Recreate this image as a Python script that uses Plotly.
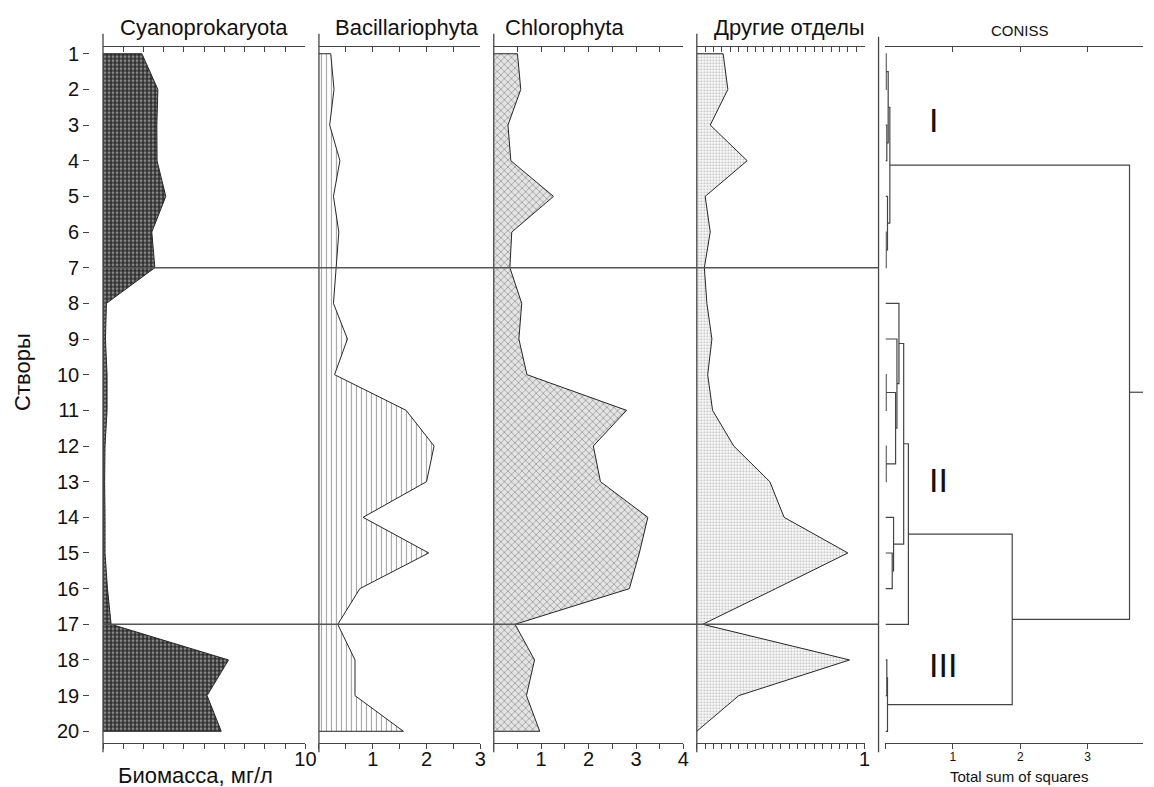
import plotly.graph_objects as go

W, H = 1154, 787

# ---------------- data ----------------
rows = list(range(1, 21))
cyano = [1.92, 2.71, 2.66, 2.67, 3.10, 2.41, 2.56, 0.17, 0.12, 0.20,
         0.20, 0.10, 0.08, 0.10, 0.10, 0.22, 0.40, 6.20, 5.14, 5.84]
bacil = [0.22, 0.28, 0.20, 0.39, 0.27, 0.37, 0.32, 0.27, 0.53, 0.29,
         1.62, 2.14, 2.00, 0.82, 2.04, 0.76, 0.35, 0.67, 0.67, 1.57]
chloro = [0.50, 0.57, 0.30, 0.36, 1.26, 0.38, 0.34, 0.59, 0.53, 0.70,
          2.80, 2.10, 2.25, 3.25, 3.07, 2.86, 0.45, 0.86, 0.69, 0.97]
other = [0.157, 0.185, 0.08, 0.30, 0.05, 0.08, 0.045, 0.06, 0.09, 0.065,
         0.094, 0.22, 0.435, 0.52, 0.90, 0.47, 0.035, 0.91, 0.25, 0.0]

panel_titles = ["Cyanoprokaryota", "Bacillariophyta", "Chlorophyta", "Другие отделы", "CONISS"]

cyano_ticks = [0, 1, 2, 3, 4, 5, 6, 7, 8, 9, 10]
cyano_labels = ["", "", "", "", "", "", "", "", "", "", "10"]
bacil_ticks = [0, 0.5, 1, 1.5, 2, 2.5, 3]
bacil_labels = ["", "", "1", "", "2", "", "3"]
chloro_ticks = [0, 0.5, 1, 1.5, 2, 2.5, 3, 3.5, 4]
chloro_labels = ["", "", "1", "", "2", "", "3", "", "4"]
other_ticks = [round(i * 0.05, 2) for i in range(21)]
other_labels = [""] * 20 + ["1"]
coniss_ticks = [0, 1, 2, 3]
coniss_labels = ["", "1", "2", "3"]

zone_boundaries = [7, 17]
zone_names = ["I", "II", "III"]
zone_label_pos = [(0.715, 2.85), (0.787, 12.94), (0.85, 18.13)]

# CONISS merges: (left, right, total sum of squares); ints are rows, "cN" = merge N
coniss_merges = [
    (1, 2, 0.01), (3, 4, 0.02), ("c0", "c1", 0.04), (6, 7, 0.01),
    (5, "c3", 0.03), ("c2", "c4", 0.065),
    (10, 11, 0.01), (12, 13, 0.01), ("c6", "c7", 0.15), (9, "c8", 0.17),
    (8, "c9", 0.20), (15, 16, 0.10), (14, "c11", 0.12), ("c10", "c12", 0.27),
    ("c13", 17, 0.34),
    (18, 19, 0.02), ("c15", 20, 0.03),
    ("c14", "c16", 1.88), ("c5", "c17", 3.62),
]
coniss_max = 3.82

# ---------------- layout geometry (screen pixels) ----------------
plot_top, plot_bot = 43, 743
row_px = (731 - 50) / 19
y_range = [20 + (plot_bot - 731) / row_px, 1 - (50 - plot_top) / row_px]
panels = [  # (left px, right px, range max)
    (104, 308.4, 10),
    (322, 485, 3),
    (498.5, 690, 4),
    (703.5, 873, 1),
    (894, 1154, coniss_max),
]
tick_sets = [(cyano_ticks, cyano_labels), (bacil_ticks, bacil_labels),
             (chloro_ticks, chloro_labels), (other_ticks, other_labels),
             (coniss_ticks, coniss_labels)]

FONT = "Liberation Sans, Arial, sans-serif"
AX = "#454545"

def px(x):
    return x / W

def py(y):
    return 1 - y / H

fig = go.Figure()

patterns = [
    dict(shape=".", fgcolor="#e0e0e0", bgcolor="#2e2e2e", size=4, solidity=0.4),
    dict(shape="|", fgcolor="#4a4a4a", bgcolor="#ffffff", size=5, solidity=0.22),
    dict(shape="x", fgcolor="#555555", bgcolor="#e4e4e4", size=5, solidity=0.3),
    dict(shape=".", fgcolor="#7a7a7a", bgcolor="#ffffff", size=3, solidity=0.4),
]
series = [cyano, bacil, chloro, other]
for i, vals in enumerate(series):
    xa = "x" if i == 0 else f"x{i+1}"
    fig.add_trace(go.Scatter(
        x=[0] + vals + [0], y=[rows[0]] + rows + [rows[-1]],
        xaxis=xa, yaxis="y", mode="lines", fill="toself",
        fillpattern=patterns[i], fillcolor=patterns[i]["bgcolor"],
        line=dict(color="#262626", width=1), hoverinfo="skip", showlegend=False))

# dendrogram
pos, hgt = {}, {}
for r in rows:
    pos[r], hgt[r] = r, 0.0
dx, dy = [], []
for k, (a, b, h) in enumerate(coniss_merges):
    ya, yb = pos[a], pos[b]
    dx += [hgt[a], h, h, hgt[b], None]
    dy += [ya, ya, yb, yb, None]
    pos[f"c{k}"] = (ya + yb) / 2
    hgt[f"c{k}"] = h
root = f"c{len(coniss_merges)-1}"
dx += [hgt[root], coniss_max, None]
dy += [pos[root], pos[root], None]
fig.add_trace(go.Scatter(x=dx, y=dy, xaxis="x5", yaxis="y", mode="lines",
                         line=dict(color="#444444", width=1.2),
                         hoverinfo="skip", showlegend=False))

# invisible traces to realise the top axes
for i in range(5):
    fig.add_trace(go.Scatter(x=[0], y=[1], xaxis=f"x{i+6}", yaxis="y", mode="markers",
                             marker=dict(opacity=0), hoverinfo="skip", showlegend=False))

layout = dict(
    width=W, height=H, margin=dict(l=0, r=0, t=0, b=0), autosize=False,
    paper_bgcolor="white", plot_bgcolor="rgba(0,0,0,0)",
    font=dict(family=FONT, color="#111"),
    yaxis=dict(domain=[py(plot_bot), py(plot_top)], range=y_range, anchor="free",
               position=px(90), tickvals=rows, ticks="outside", ticklen=6,
               tickcolor=AX, showline=False, showgrid=False, zeroline=False,
               tickfont=dict(size=20, family=FONT)),
)
for i, (l, r, mx) in enumerate(panels):
    tv, tt = tick_sets[i]
    name = "xaxis" if i == 0 else f"xaxis{i+1}"
    fs = 12 if i == 4 else 20
    layout[name] = dict(domain=[px(l), min(px(r), 1.0)], range=[0, mx], anchor="y",
                        side="bottom", showline=True, linecolor=AX, linewidth=1.2,
                        ticks="outside", ticklen=5, tickcolor=AX, tickvals=tv,
                        ticktext=tt, showgrid=False, zeroline=False, tickangle=0,
                        tickfont=dict(size=fs, family=FONT))
    top_tv = tv if i != 4 else [1, 2, 3]
    layout[f"xaxis{i+6}"] = dict(overlaying="x" if i == 0 else f"x{i+1}", range=[0, mx],
                                 anchor="y", side="top", showline=True, linecolor=AX,
                                 linewidth=1.2, ticks="inside", ticklen=5, tickcolor=AX,
                                 tickvals=top_tv, showticklabels=False,
                                 showgrid=False, zeroline=False)
fig.update_layout(**layout)
for name in ["xaxis", "xaxis2", "xaxis3", "xaxis4"]:
    try:
        fig.layout[name].ticklabelstandoff = -7
    except Exception:
        pass
try:
    fig.layout["xaxis5"].ticklabelstandoff = -3
except Exception:
    pass

shapes = []
for i, (l, r, mx) in enumerate(panels[:4]):
    xr = "x" if i == 0 else f"x{i+1}"
    shapes.append(dict(type="line", xref=f"{xr} domain", x0=0, x1=0, yref="paper",
                       y0=py(752), y1=py(30), line=dict(color=AX, width=1.3), layer="above"))
shapes.append(dict(type="line", xref="paper", x0=px(887), x1=px(887), yref="paper",
                   y0=py(752), y1=py(33), line=dict(color=AX, width=1.3), layer="above"))
for zb in zone_boundaries:
    shapes.append(dict(type="line", xref="paper", x0=px(104), x1=px(887), yref="y",
                       y0=zb, y1=zb, line=dict(color="#555", width=1.4), layer="above"))
fig.update_layout(shapes=shapes)

ann = []
title_x = [205.5, 411, 570, 797, 1030]
for i, t in enumerate(panel_titles):
    fs = 15 if i == 4 else 22
    yb = 37 if i == 4 else 38
    ann.append(dict(text=t, xref="paper", yref="paper", x=px(title_x[i]), y=py(yb),
                    xanchor="center", yanchor="bottom", showarrow=False,
                    font=dict(size=fs, family=FONT, color="#111")))
ann.append(dict(text="Биомасса, мг/л", xref="paper", yref="paper", x=px(197), y=py(775),
                xanchor="center", yanchor="middle", showarrow=False,
                font=dict(size=22, family=FONT, color="#111")))
ann.append(dict(text="Total sum of squares", xref="paper", yref="paper", x=px(1029), y=py(776),
                xanchor="center", yanchor="middle", showarrow=False,
                font=dict(size=15, family=FONT, color="#111")))
ann.append(dict(text="Створы", xref="paper", yref="paper", x=px(22), y=py(370),
                xanchor="center", yanchor="middle", showarrow=False, textangle=-90,
                font=dict(size=22, family=FONT, color="#111")))
for name, (zx, zy) in zip(zone_names, zone_label_pos):
    ann.append(dict(text=name, xref="x5", yref="y", x=zx, y=zy, xanchor="center",
                    yanchor="middle", showarrow=False,
                    font=dict(size=34, family=FONT, color="#111")))
fig.update_layout(annotations=ann)

fig.write_html("out.html",
               config={"displayModeBar": False},
               post_script="document.body.style.margin='0';"
                           "document.body.style.overflow='hidden';")
